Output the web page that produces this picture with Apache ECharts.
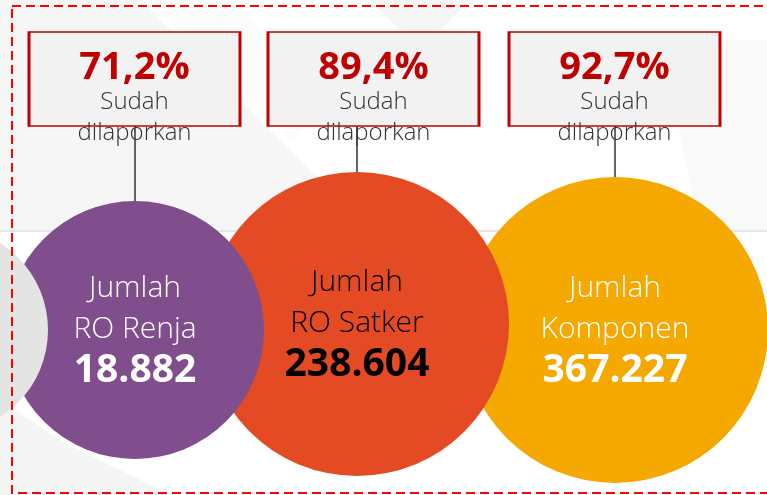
<!DOCTYPE html>
<html>
<head>
<meta charset="utf-8">
<script src="https://cdn.jsdelivr.net/npm/echarts@6/dist/echarts.min.js"></script>
<style>
html,body{margin:0;padding:0;background:#fff;}
#main{width:767px;height:495px;}
</style>
</head>
<body>
<div id="main"></div>
<script>
// ---- data ----
const titles = ['Jumlah', 'Jumlah', 'Jumlah'];
const categories = ['RO Renja', 'RO Satker', 'Komponen'];
const totals = [18882, 238604, 367227];
const reportedPct = [71.2, 89.4, 92.7];
const reportedLabel = ['Sudah', 'dilaporkan'];

// ---- layout (pixels) ----
const circleX = [135, 357, 615];
const circleY = [330, 324, 330];
const circleD = [258, 304, 306];
const circleColor = ['#804e8c', '#e44a23', '#f5a800'];
const circleText = ['#ffffff', '#000000', '#ffffff'];
const boxX = [134.5, 373.5, 614.5];
const boxY = 79;
const lineX = [135, 357, 615];
const lineTop = 126;

function fmtInt(v) {
  return String(v).replace(/\B(?=(\d{3})+(?!\d))/g, '.');
}
function fmtPct(v) {
  return v.toFixed(1).replace('.', ',') + '%';
}

const FONT = 'Open Sans';

// circles drawn in order: yellow, orange, purple (purple on top)
const order = [2, 1, 0];
const circleData = order.map(i => ({
  value: [circleX[i], circleY[i]],
  symbolSize: circleD[i],
  itemStyle: { color: circleColor[i], opacity: 1 },
  label: {
    formatter: '{t|' + titles[i] + '}\n{t|' + categories[i] + '}\n{n|' + fmtInt(totals[i]) + '}',
    rich: {
      t: { fontSize: 30, lineHeight: 41, color: circleText[i], fontFamily: FONT, fontWeight: 300 },
      n: { fontSize: 39, lineHeight: 42, color: circleText[i], fontFamily: FONT, fontWeight: 'bold' }
    }
  }
}));

const boxData = reportedPct.map((p, i) => ({
  value: [boxX[i], boxY],
  label: {
    formatter: '{p|' + fmtPct(p) + '}\n{s|' + reportedLabel[0] + '}\n{s|' + reportedLabel[1] + '}'
  }
}));

const lineData = lineX.map((x, i) => ({
  coords: [[x, lineTop], [x, circleY[i] - circleD[i] / 2 + 1]]
}));

const chart = echarts.init(document.getElementById('main'), null, { renderer: 'canvas' });
chart.setOption({
  animation: false,
  backgroundColor: '#ffffff',
  grid: { left: 0, right: 0, top: 0, bottom: 0 },
  xAxis: { type: 'value', min: 0, max: 767, show: false },
  yAxis: { type: 'value', min: 0, max: 495, inverse: true, show: false },
  graphic: [
    { type: 'polygon', z: -10, shape: { points: [[0,0],[140,0],[330,190],[330,230],[0,230]] }, style: { fill: '#f6f6f6' } },
    { type: 'polygon', z: -9, shape: { points: [[150,0],[230,0],[330,100],[290,140]] }, style: { fill: '#fcfcfc' } },
    { type: 'polygon', z: -10, shape: { points: [[370,0],[470,0],[420,50]] }, style: { fill: '#f6f6f6' } },
    { type: 'polygon', z: -10, shape: { points: [[660,40],[767,40],[767,230],[700,230]] }, style: { fill: '#f9f9f9' } },
    { type: 'polygon', z: -10, shape: { points: [[0,400],[60,440],[170,495],[0,495]] }, style: { fill: '#f5f5f5' } },
    { type: 'line', z: -5, shape: { x1: 0, y1: 231, x2: 767, y2: 231 }, style: { stroke: '#e6e6e6', lineWidth: 2 } },
    { type: 'circle', z: 100, shape: { cx: -55, cy: 330, r: 103 }, style: { fill: '#e4e4e4' } },
    { type: 'rect', z: 101, shape: { x: 12, y: 6, width: 800, height: 487 }, style: { fill: 'none', stroke: '#ff0000', lineWidth: 2, lineDash: [9, 5] } }
  ],
  series: [
    {
      type: 'lines',
      coordinateSystem: 'cartesian2d',
      z: 1,
      silent: true,
      lineStyle: { color: '#333333', width: 1.5, opacity: 1 },
      data: lineData
    },
    {
      type: 'scatter',
      z: 2,
      clip: false,
      silent: true,
      symbol: 'circle',
      itemStyle: { opacity: 1 },
      label: { show: true, position: 'inside' },
      data: circleData
    },
    {
      type: 'scatter',
      z: 3,
      clip: false,
      silent: true,
      symbol: 'rect',
      symbolSize: [211, 94],
      itemStyle: { color: '#f2f2f2', borderColor: '#c00000', borderWidth: 2, opacity: 1 },
      label: {
        show: true,
        position: 'inside',
        offset: [0, 20],
        rich: {
          p: { fontSize: 38, lineHeight: 38, color: '#c00000', fontWeight: 'bold', fontFamily: FONT },
          s: { fontSize: 24, lineHeight: 31, color: '#333333', fontFamily: FONT, fontWeight: 300 }
        }
      },
      data: boxData
    }
  ]
});
</script>
</body>
</html>
